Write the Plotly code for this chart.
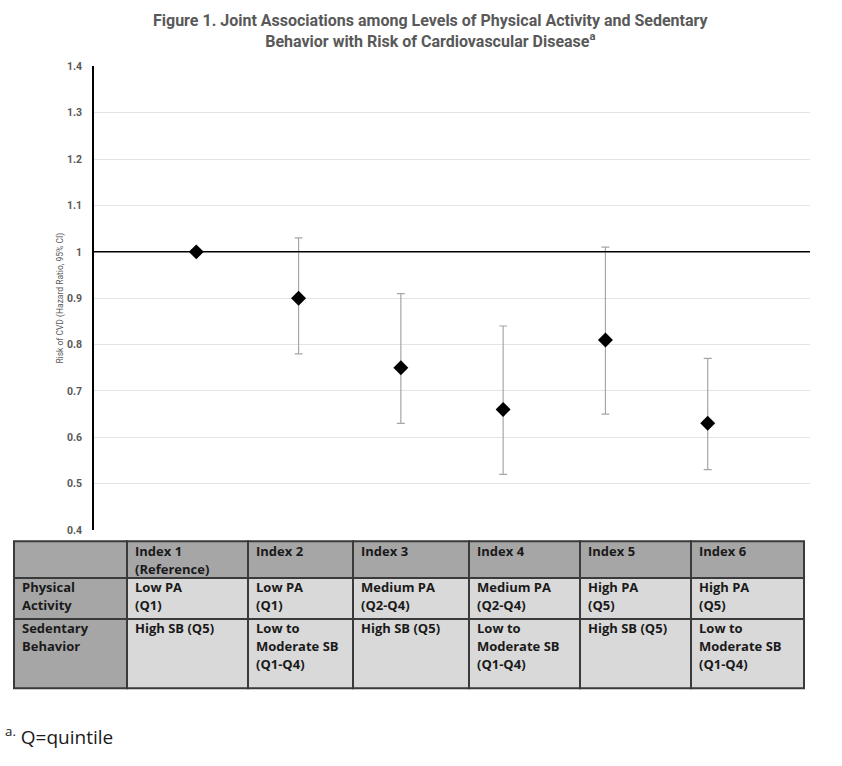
import plotly.graph_objects as go

# ---- data ----
indices = [1, 2, 3, 4, 5, 6]
hr = [1.00, 0.90, 0.75, 0.66, 0.81, 0.63]
ci_low = [1.00, 0.78, 0.63, 0.52, 0.65, 0.53]
ci_high = [1.00, 1.03, 0.91, 0.84, 1.01, 0.77]

header_labels = ["", "Index 1<br>(Reference)", "Index 2", "Index 3", "Index 4", "Index 5", "Index 6"]
row_labels = ["Physical<br>Activity", "Sedentary<br>Behavior"]
pa_labels = ["Low PA<br>(Q1)", "Low PA<br>(Q1)", "Medium PA<br>(Q2-Q4)", "Medium PA<br>(Q2-Q4)",
             "High PA<br>(Q5)", "High PA<br>(Q5)"]
sb_labels = ["High SB (Q5)", "Low to<br>Moderate SB<br>(Q1-Q4)", "High SB (Q5)",
             "Low to<br>Moderate SB<br>(Q1-Q4)", "High SB (Q5)", "Low to<br>Moderate SB<br>(Q1-Q4)"]

# table layout (pixels)
col_edges = [14, 127, 248, 353, 469, 580, 691, 804]
row_edges = [544.5, 582, 623.5, 694]

W, H = 842, 766
err_plus = [h - v for h, v in zip(ci_high, hr)]
err_minus = [v - l for v, l in zip(hr, ci_low)]

fig = go.Figure()
fig.add_trace(go.Scatter(
    x=indices, y=hr, mode="markers",
    marker=dict(symbol="diamond", size=11.5, color="black"),
    error_y=dict(type="data", symmetric=False, array=err_plus, arrayminus=err_minus,
                 color="#a6a6a6", thickness=1.2, width=4),
    showlegend=False, hoverinfo="skip",
))

fig.add_shape(type="line", xref="x domain", yref="y", x0=0, x1=1, y0=1, y1=1,
              line=dict(color="black", width=1.5))


def px_x(v):
    return v / W


def px_y(v):
    return 1 - v / H


# table grid: rows -> [header, PA row, SB row]; columns -> [label col, index cols]
table_rows = [header_labels,
              [row_labels[0]] + pa_labels,
              [row_labels[1]] + sb_labels]

dark, light, border = "#a6a6a6", "#d9d9d9", "#3a3a3a"
annotations = []
for r, row in enumerate(table_rows):
    for c, txt in enumerate(row):
        x0, x1 = col_edges[c], col_edges[c + 1]
        y0, y1 = row_edges[r], row_edges[r + 1]
        fill = dark if (r == 0 or c == 0) else light
        fig.add_shape(type="rect", xref="paper", yref="paper",
                      x0=px_x(x0), x1=px_x(x1), y0=px_y(y1), y1=px_y(y0),
                      fillcolor=fill, line=dict(color=border, width=2), layer="below")
        for k, line in enumerate(txt.split("<br>")):
            if not line:
                continue
            annotations.append(dict(
                text=line, x=px_x(x0 + 6), y=px_y(y0 + 9.5 + 18.3 * k),
                xref="paper", yref="paper", xanchor="left", yanchor="middle",
                showarrow=False,
                font=dict(family="Open Sans", size=13, color="#1a1a1a", weight="bold"),
            ))

annotations.append(dict(
    text="Figure 1. Joint Associations among Levels of Physical Activity and Sedentary<br>"
         "Behavior with Risk of Cardiovascular Disease<sup>a</sup>",
    x=px_x(431), y=px_y(25), xref="paper", yref="paper", xanchor="center", yanchor="middle",
    showarrow=False, align="center",
    font=dict(family="Roboto", size=16, color="#595959", weight="bold"),
))
annotations.append(dict(
    text="<sup>a.</sup> Q=quintile", x=px_x(3), y=px_y(743), xref="paper", yref="paper",
    xanchor="left", yanchor="middle", showarrow=False,
    font=dict(family="Open Sans", size=19, color="#1a1a1a"),
))

fig.update_layout(
    width=W, height=H,
    margin=dict(l=0, r=0, t=0, b=0),
    paper_bgcolor="white", plot_bgcolor="white",
    xaxis=dict(domain=[94 / W, 810 / W], range=[0, 7], showgrid=False, showticklabels=False,
               zeroline=False, showline=False, fixedrange=True),
    yaxis=dict(domain=[1 - 533 / H, 1 - 61.5 / H], range=[0.4, 1.4], dtick=0.1, tick0=0.4,
               showgrid=True, gridcolor="#e4e4e4", gridwidth=1, zeroline=False,
               showline=True, linecolor="black", linewidth=1.5, fixedrange=True,
               ticks="", ticklabelstandoff=8,
               tickfont=dict(family="Roboto", size=10.5, color="#595959", weight="bold"),
               title=dict(text="Risk of CVD (Hazard Ratio, 95% CI)", standoff=2,
                          font=dict(family="Roboto", size=8.5, color="#595959"))),
    annotations=annotations,
)

fig.write_html("out.html", config={"displayModeBar": False},
               post_script="document.body.style.margin='0';")
